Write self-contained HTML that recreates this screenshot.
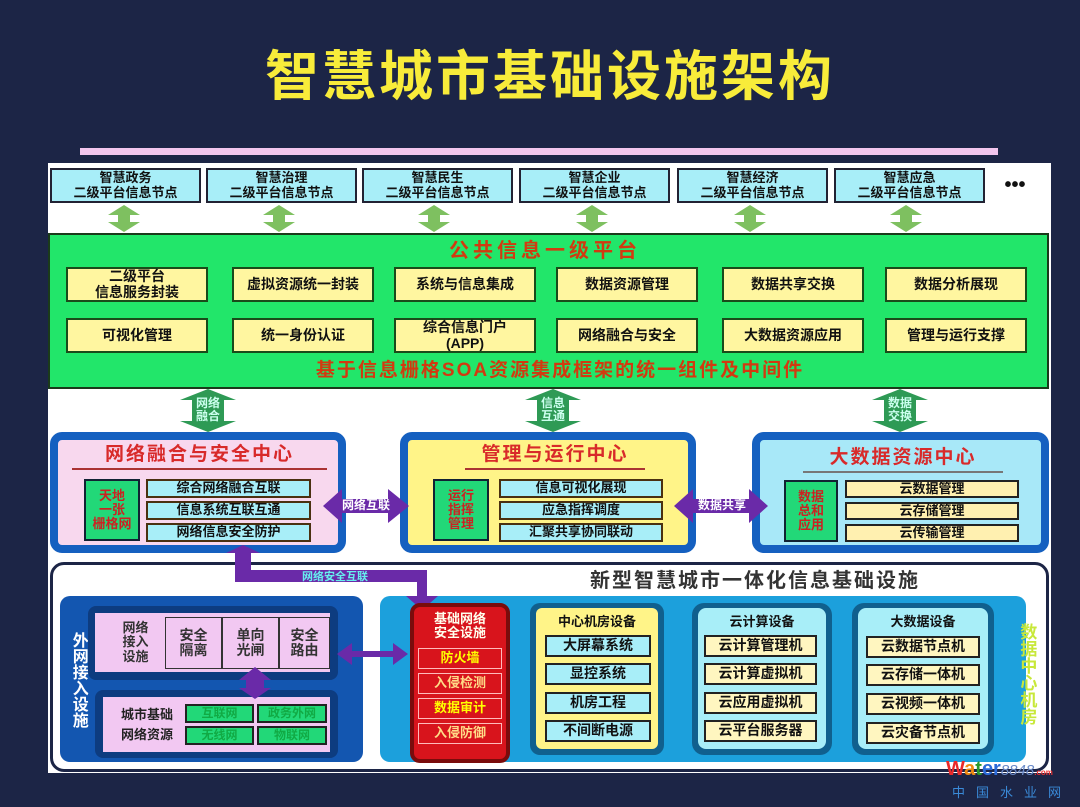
<!DOCTYPE html>
<html><head><meta charset="utf-8"><style>
*{margin:0;padding:0;box-sizing:border-box}
body{width:1080px;height:807px;background:#1c2546;position:relative;overflow:hidden;font-family:"Liberation Sans","Noto Sans CJK SC",sans-serif;font-weight:bold}
.a{position:absolute}
.b{position:absolute;display:flex;align-items:center;justify-content:center;text-align:center;line-height:1.1;color:#111}
.tn{background:#a8eef8;border:2px solid #223;font-size:13px;top:168px;height:35px;width:151px}
.yb{background:#fff6a0;border:2px solid #1a4a1a;font-size:14px;width:142px;height:35px}
.cy{background:#a8eef8;border:2px solid #4a3010;font-size:13px}
.lb{background:#fff6c0;border:2px solid #222;font-size:14px}
.vt{writing-mode:vertical-rl;letter-spacing:0}
</style></head><body>
<div class="b" style="left:0;top:40px;width:1100px;height:76px;font-size:54px;color:#f8ec3a;letter-spacing:3px;font-weight:bold">智慧城市基础设施架构</div>
<div class="a" style="left:80px;top:148px;width:918px;height:7px;background:#f2c6ee"></div>
<div class="a" style="left:48px;top:163px;width:1003px;height:610px;background:#fff"></div>

<div class="b tn" style="left:50px">智慧政务<br>二级平台信息节点</div>
<div class="b tn" style="left:206px">智慧治理<br>二级平台信息节点</div>
<div class="b tn" style="left:362px">智慧民生<br>二级平台信息节点</div>
<div class="b tn" style="left:519px">智慧企业<br>二级平台信息节点</div>
<div class="b tn" style="left:677px">智慧经济<br>二级平台信息节点</div>
<div class="b tn" style="left:834px">智慧应急<br>二级平台信息节点</div>
<div class="b" style="left:995px;top:172px;width:40px;height:25px;font-size:20px">•••</div>

<svg class="a" style="left:0;top:0" width="1080" height="807">
<g fill="#7ec060">
<polygon points="124,205 140,215 130,215 130,222 140,222 124,232 108,222 118,222 118,215 108,215"/>
<polygon points="279,205 295,215 285,215 285,222 295,222 279,232 263,222 273,222 273,215 263,215"/>
<polygon points="434,205 450,215 440,215 440,222 450,222 434,232 418,222 428,222 428,215 418,215"/>
<polygon points="592,205 608,215 598,215 598,222 608,222 592,232 576,222 586,222 586,215 576,215"/>
<polygon points="750,205 766,215 756,215 756,222 766,222 750,232 734,222 744,222 744,215 734,215"/>
<polygon points="906,205 922,215 912,215 912,222 922,222 906,232 890,222 900,222 900,215 890,215"/>
</g>
<g fill="#2e9a55">
<polygon points="208,389 236,400 224,400 224,421 236,421 208,432 180,421 192,421 192,400 180,400"/>
<polygon points="553,389 581,400 569,400 569,421 581,421 553,432 525,421 537,421 537,400 525,400"/>
<polygon points="900,389 928,400 916,400 916,421 928,421 900,432 872,421 884,421 884,400 872,400"/>
</g>
</svg>

<div class="a" style="left:48px;top:233px;width:1001px;height:156px;background:#22e66a;border:2px solid #1a3a1a"></div>
<div class="b" style="left:380px;top:238px;width:330px;height:26px;font-size:20px;color:#d23a10;letter-spacing:4px">公共信息一级平台</div>
<div class="b yb" style="left:66px;top:267px">二级平台<br>信息服务封装</div>
<div class="b yb" style="left:232px;top:267px">虚拟资源统一封装</div>
<div class="b yb" style="left:394px;top:267px">系统与信息集成</div>
<div class="b yb" style="left:556px;top:267px">数据资源管理</div>
<div class="b yb" style="left:722px;top:267px">数据共享交换</div>
<div class="b yb" style="left:885px;top:267px">数据分析展现</div>
<div class="b yb" style="left:66px;top:318px">可视化管理</div>
<div class="b yb" style="left:232px;top:318px">统一身份认证</div>
<div class="b yb" style="left:394px;top:318px">综合信息门户<br>(APP)</div>
<div class="b yb" style="left:556px;top:318px">网络融合与安全</div>
<div class="b yb" style="left:722px;top:318px">大数据资源应用</div>
<div class="b yb" style="left:885px;top:318px">管理与运行支撑</div>
<div class="b" style="left:240px;top:358px;width:640px;height:26px;font-size:19px;color:#d23a10;letter-spacing:2px">基于信息栅格SOA资源集成框架的统一组件及中间件</div>
<div class="b" style="left:188px;top:397px;width:40px;font-size:12px;color:#cfe">网络<br>融合</div>
<div class="b" style="left:533px;top:397px;width:40px;font-size:12px;color:#cfe">信息<br>互通</div>
<div class="b" style="left:880px;top:397px;width:40px;font-size:12px;color:#cfe">数据<br>交换</div>

<div class="a" style="left:50px;top:432px;width:296px;height:121px;background:#f8d8ee;border:8px solid #1560c0;border-radius:12px"></div>
<div class="b" style="left:72px;top:442px;width:255px;height:28px;font-size:19px;color:#d82a2a;border-bottom:2px solid #a33;letter-spacing:2px">网络融合与安全中心</div>
<div class="b" style="left:84px;top:479px;width:56px;height:62px;background:#22d878;border:2px solid #123;color:#c22;font-size:13px">天地<br>一张<br>栅格网</div>
<div class="b cy" style="left:146px;top:479px;width:165px;height:19px">综合网络融合互联</div>
<div class="b cy" style="left:146px;top:501px;width:165px;height:19px">信息系统互联互通</div>
<div class="b cy" style="left:146px;top:523px;width:165px;height:19px">网络信息安全防护</div>

<div class="a" style="left:400px;top:432px;width:296px;height:121px;background:#fff488;border:8px solid #1560c0;border-radius:12px"></div>
<div class="b" style="left:465px;top:442px;width:180px;height:28px;font-size:19px;color:#d82a2a;border-bottom:2px solid #a33;letter-spacing:2px">管理与运行中心</div>
<div class="b" style="left:433px;top:479px;width:56px;height:62px;background:#22d878;border:2px solid #123;color:#c22;font-size:13px">运行<br>指挥<br>管理</div>
<div class="b cy" style="left:499px;top:479px;width:164px;height:19px">信息可视化展现</div>
<div class="b cy" style="left:499px;top:501px;width:164px;height:19px">应急指挥调度</div>
<div class="b cy" style="left:499px;top:523px;width:164px;height:19px">汇聚共享协同联动</div>

<div class="a" style="left:752px;top:432px;width:297px;height:121px;background:#a8e8f8;border:8px solid #1560c0;border-radius:12px"></div>
<div class="b" style="left:803px;top:445px;width:200px;height:28px;font-size:19px;color:#d82a2a;border-bottom:2px solid #777;letter-spacing:2px">大数据资源中心</div>
<div class="b" style="left:784px;top:480px;width:54px;height:62px;background:#22d878;border:2px solid #123;color:#c22;font-size:13px">数据<br>总和<br>应用</div>
<div class="b lb" style="left:845px;top:480px;width:174px;height:18px;font-size:13px;background:#fff0b0">云数据管理</div>
<div class="b lb" style="left:845px;top:502px;width:174px;height:18px;font-size:13px;background:#fff0b0">云存储管理</div>
<div class="b lb" style="left:845px;top:524px;width:174px;height:18px;font-size:13px;background:#fff0b0">云传输管理</div>

<div class="a" style="left:50px;top:562px;width:999px;height:210px;border:3px solid #1c2546;border-radius:14px;background:#fff"></div>
<div class="b" style="left:540px;top:568px;width:430px;height:26px;font-size:20px;color:#333;letter-spacing:2px">新型智慧城市一体化信息基础设施</div>
<div class="a" style="left:60px;top:596px;width:303px;height:166px;background:#1356b0;border-radius:10px"></div>
<div class="a" style="left:380px;top:596px;width:646px;height:166px;background:#1ca0dc;border-radius:10px"></div>
<div class="b vt" style="left:64px;top:620px;width:28px;height:120px;font-size:16px;color:#fff">外网接入设施</div>
<div class="a" style="left:88px;top:606px;width:250px;height:74px;background:#0d3c80;border-radius:8px"></div>
<div class="a" style="left:95px;top:613px;width:235px;height:59px;background:#f2c8f2"></div>
<div class="b" style="left:98px;top:614px;width:75px;height:57px;font-size:13px;color:#333">网络<br>接入<br>设施</div>
<div class="b" style="left:165px;top:617px;width:57px;height:52px;border:1px solid #333;font-size:14px;color:#333">安全<br>隔离</div>
<div class="b" style="left:222px;top:617px;width:57px;height:52px;border:1px solid #333;font-size:14px;color:#333">单向<br>光闸</div>
<div class="b" style="left:279px;top:617px;width:51px;height:52px;border:1px solid #333;font-size:14px;color:#333">安全<br>路由</div>
<div class="a" style="left:95px;top:690px;width:243px;height:68px;background:#0d3c80;border-radius:8px"></div>
<div class="a" style="left:103px;top:697px;width:227px;height:55px;background:#f2c8f2"></div>
<div class="b" style="left:108px;top:702px;width:78px;height:45px;font-size:13px;color:#222;line-height:1.5">城市基础<br>网络资源</div>
<div class="b" style="left:185px;top:704px;width:69px;height:19px;background:#22d878;border:2px solid #222;font-size:12px;color:#1a4">互联网</div>
<div class="b" style="left:257px;top:704px;width:70px;height:19px;background:#22d878;border:2px solid #222;font-size:12px;color:#1a4">政务外网</div>
<div class="b" style="left:185px;top:726px;width:69px;height:19px;background:#22d878;border:2px solid #222;font-size:12px;color:#1a4">无线网</div>
<div class="b" style="left:257px;top:726px;width:70px;height:19px;background:#22d878;border:2px solid #222;font-size:12px;color:#1a4">物联网</div>

<svg class="a" style="left:0;top:0" width="1080" height="807">
<g fill="#6a2aa8">
<polygon points="323,506 342,489 342,499 388,499 388,489 409,506 388,523 388,513 342,513 342,523"/>
<polygon points="674,506 693,489 693,499 749,499 749,489 768,506 749,523 749,513 693,513 693,523"/>
<polygon points="235,553 251,553 251,570 427,570 427,596 438,596 422,610 406,596 417,596 417,582 235,582"/>
<polygon points="226,553 260,553 243,545"/>
<polygon points="337,654 352,643 352,651 393,651 393,643 408,654 393,665 393,657 352,657 352,665"/>
<polygon points="255,667 271,680 264,680 264,688 271,688 255,699 239,688 246,688 246,680 239,680"/>
</g>
</svg>
<div class="b" style="left:323px;top:498px;width:86px;height:16px;font-size:12px;color:#fff">网络互联</div>
<div class="b" style="left:682px;top:498px;width:80px;height:16px;font-size:12px;color:#fff">数据共享</div>
<div class="b" style="left:275px;top:571px;width:120px;height:12px;font-size:11px;color:#6ee">网络安全互联</div>

<div class="a" style="left:410px;top:603px;width:100px;height:160px;background:#d8141c;border:4px solid #7a0c0c;border-radius:10px"></div>
<div class="b" style="left:414px;top:608px;width:92px;height:36px;font-size:13px;color:#ffe">基础网络<br>安全设施</div>
<div class="b" style="left:418px;top:648px;width:84px;height:21px;border:1px solid #fbb;font-size:13px;color:#ff0">防火墙</div>
<div class="b" style="left:418px;top:673px;width:84px;height:21px;border:1px solid #fbb;font-size:13px;color:#fd8">入侵检测</div>
<div class="b" style="left:418px;top:698px;width:84px;height:21px;border:1px solid #fbb;font-size:13px;color:#ff0">数据审计</div>
<div class="b" style="left:418px;top:723px;width:84px;height:21px;border:1px solid #fbb;font-size:13px;color:#fd8">入侵防御</div>

<div class="a" style="left:530px;top:603px;width:134px;height:152px;background:#10608e;border-radius:10px"></div>
<div class="a" style="left:536px;top:608px;width:122px;height:141px;background:#fff488;border-radius:6px"></div>
<div class="b" style="left:536px;top:612px;width:122px;height:20px;font-size:13px">中心机房设备</div>
<div class="b cy" style="left:545px;top:635px;width:106px;height:22px;border-color:#222;font-size:14px">大屏幕系统</div>
<div class="b cy" style="left:545px;top:663px;width:106px;height:22px;border-color:#222;font-size:14px">显控系统</div>
<div class="b cy" style="left:545px;top:692px;width:106px;height:22px;border-color:#222;font-size:14px">机房工程</div>
<div class="b cy" style="left:545px;top:720px;width:106px;height:22px;border-color:#222;font-size:14px">不间断电源</div>

<div class="a" style="left:692px;top:603px;width:140px;height:152px;background:#10608e;border-radius:12px"></div>
<div class="a" style="left:698px;top:608px;width:128px;height:141px;background:#a8eef8;border-radius:8px"></div>
<div class="b" style="left:698px;top:612px;width:128px;height:20px;font-size:13px">云计算设备</div>
<div class="b lb" style="left:704px;top:635px;width:113px;height:22px">云计算管理机</div>
<div class="b lb" style="left:704px;top:663px;width:113px;height:22px">云计算虚拟机</div>
<div class="b lb" style="left:704px;top:692px;width:113px;height:22px">云应用虚拟机</div>
<div class="b lb" style="left:704px;top:720px;width:113px;height:22px">云平台服务器</div>

<div class="a" style="left:852px;top:603px;width:142px;height:152px;background:#10608e;border-radius:12px"></div>
<div class="a" style="left:858px;top:608px;width:130px;height:141px;background:#a8eef8;border-radius:8px"></div>
<div class="b" style="left:858px;top:612px;width:130px;height:20px;font-size:13px">大数据设备</div>
<div class="b lb" style="left:866px;top:636px;width:114px;height:22px">云数据节点机</div>
<div class="b lb" style="left:866px;top:664px;width:114px;height:22px">云存储一体机</div>
<div class="b lb" style="left:866px;top:693px;width:114px;height:22px">云视频一体机</div>
<div class="b lb" style="left:866px;top:722px;width:114px;height:22px">云灾备节点机</div>
<div class="b vt" style="left:1012px;top:618px;width:28px;height:112px;font-size:17px;color:#c8e83a">数据中心机房</div>

<div class="a" style="left:946px;top:758px;font-size:20px;white-space:nowrap;font-family:'Liberation Sans',sans-serif;font-weight:bold"><span style="color:#e82a2a">W</span><span style="color:#f08a10">a</span><span style="color:#2a9a2a">t</span><span style="color:#2a6ad8">er</span><span style="color:#6a8ac8;font-style:italic;font-size:15px;font-weight:normal">8848</span><span style="color:#e33;font-size:8px">.com</span></div>
<div class="a" style="left:952px;top:782px;font-size:13px;color:#3a8ad8;letter-spacing:11px;white-space:nowrap;font-weight:normal">中国水业网</div>
</body></html>
